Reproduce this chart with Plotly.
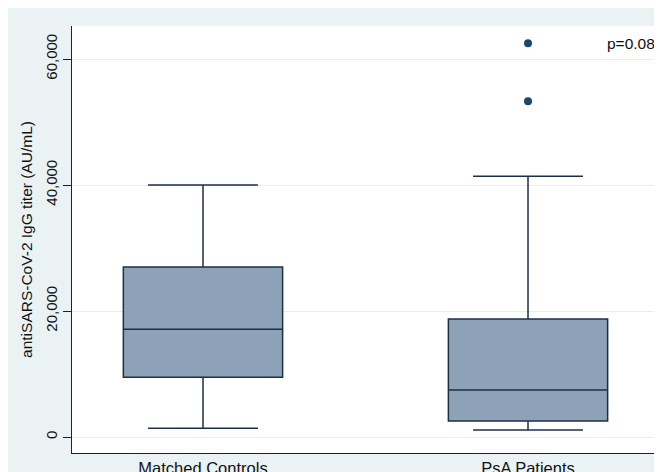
import plotly.graph_objects as go

# ---- data ----
categories = ["Matched Controls", "PsA Patients"]
lower_whisker = [1400, 1100]
q1_values = [9500, 2550]
median_values = [17100, 7450]
q3_values = [27000, 18750]
upper_whisker = [40000, 41400]
outlier_groups = ["PsA Patients", "PsA Patients"]
outlier_values = [62500, 53300]
y_tick_values = [0, 20000, 40000, 60000]
y_tick_labels = ["0", "20,000", "40,000", "60,000"]
p_text = "p=0.08"

# figure sits at the page's 8px body offset and runs past the window edge
W, H = 656, 480
ML, MR, MT, MB = 64, 5, 18, 35

BG = "#EAF2F3"
FILL = "#8DA2B7"
LINE = "#1C2F45"
DOT = "#1A476F"
FONT = "Liberation Sans, Arial, sans-serif"

fig = go.Figure()
for i, cat in enumerate(categories):
    fig.add_trace(go.Box(
        x=[cat], q1=[q1_values[i]], median=[median_values[i]], q3=[q3_values[i]],
        lowerfence=[lower_whisker[i]], upperfence=[upper_whisker[i]],
        width=0.49, whiskerwidth=0.69, boxpoints=False,
        fillcolor=FILL, line=dict(color=LINE, width=1.5),
        showlegend=False, hoverinfo="skip",
    ))

fig.add_trace(go.Scatter(
    x=outlier_groups, y=outlier_values, mode="markers",
    marker=dict(color=DOT, size=8), showlegend=False, hoverinfo="skip",
))

fig.add_annotation(
    xref="paper", yref="y", x=1.0, y=62500, xanchor="right", yanchor="middle",
    text=p_text, showarrow=False, font=dict(family=FONT, size=15.5, color="#111"),
    xshift=-2,
)

fig.update_layout(
    width=W, height=H,
    margin=dict(l=ML, r=MR, t=MT, b=MB, pad=0),
    paper_bgcolor=BG, plot_bgcolor="white",
    font=dict(family=FONT, size=15, color="#111"),
    xaxis=dict(
        type="category", categoryorder="array", categoryarray=categories,
        range=[-0.403, 1.403], showgrid=False, zeroline=False,
        showline=True, linecolor="#222", linewidth=1,
        ticks="", ticklen=0,
        tickfont=dict(size=16.5, family=FONT, color="#111"),
    ),
    yaxis=dict(
        range=[-2540, 65240], tickvals=y_tick_values, ticktext=y_tick_labels,
        tickangle=-90, ticks="outside", ticklen=8, tickcolor="#222",
        showline=True, linecolor="#222", linewidth=1,
        showgrid=True, gridcolor="#E6EEF0", gridwidth=1, zeroline=False,
        tickfont=dict(size=15, family=FONT, color="#111"),
        title=dict(text="antiSARS-CoV-2 IgG titer (AU/mL)", standoff=6,
                   font=dict(size=15.5, family=FONT, color="#111")),
    ),
)

fig.write_html(
    "out.html",
    post_script="document.body.style.overflow='hidden';document.documentElement.style.overflow='hidden';",
)
